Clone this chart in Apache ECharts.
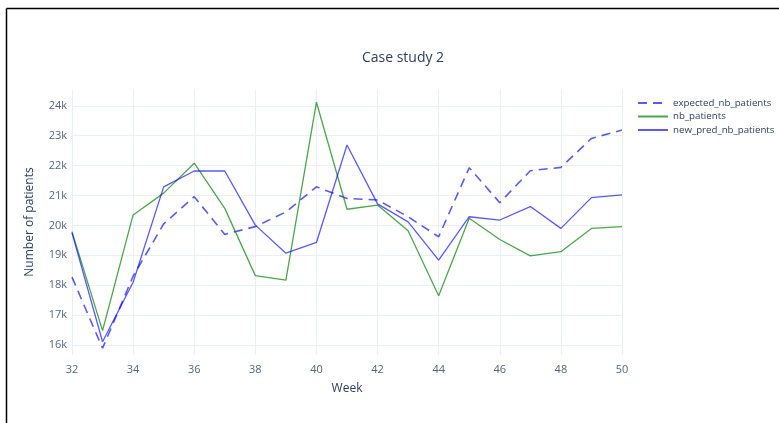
<!DOCTYPE html>
<html><head><meta charset="utf-8">
<script src="https://cdn.jsdelivr.net/npm/echarts@6/dist/echarts.min.js"></script>
<style>html,body{margin:0;padding:0;background:#fff}#c{width:779px;height:423px}</style>
</head><body><div id="c"></div>
<script>
const weeks = [32,33,34,35,36,37,38,39,40,41,42,43,44,45,46,47,48,49,50];
const expected = [18270,15890,18300,20050,20960,19700,19960,20450,21290,20900,20850,20290,19620,21930,20760,21830,21940,22910,23190];
const nbPatients = [19790,16480,20350,21080,22080,20570,18320,18170,24120,20540,20680,19820,17650,20240,19530,18980,19120,19900,19960];
const newPred = [19750,16110,18100,21290,21820,21820,20010,19070,19430,22690,20720,20120,18840,20290,20180,20630,19900,20930,21020];
const yTicks = [16000,17000,18000,19000,20000,21000,22000,23000,24000];

const font = 'Open Sans, Noto Sans, sans-serif';
const txt = '#2a3f5f';
const tick = '#506784';
const pair = a => weeks.map((w,i)=>[w,a[i]]);
const chart = echarts.init(document.getElementById('c'));
chart.setOption({
  animation:false,
  backgroundColor:'#fff',
  title:{text:'Case study 2',left:398,top:46,textAlign:'center',textStyle:{fontFamily:font,fontSize:14,fontWeight:'normal',color:txt}},
  legend:{orient:'vertical',left:632,top:93,itemWidth:30,itemHeight:12,itemGap:3.5,
    itemStyle:{opacity:0},
    textStyle:{fontFamily:font,fontSize:9.7,color:txt},
    data:['expected_nb_patients','nb_patients','new_pred_nb_patients']},
  grid:{left:72,right:157,top:89,bottom:68},
  xAxis:{type:'value',min:32,max:50,interval:2,
    name:'Week',nameLocation:'middle',nameGap:28,nameTextStyle:{fontFamily:font,fontSize:12,color:txt},
    axisLine:{show:false},axisTick:{show:false},
    axisLabel:{fontFamily:font,fontSize:11,color:tick,margin:9},
    splitLine:{show:true,lineStyle:{color:'#ebf0f8',width:1}}},
  yAxis:{type:'value',min:15666,max:24562,
    name:'Number of patients',nameLocation:'middle',nameGap:36,nameTextStyle:{fontFamily:font,fontSize:12,color:txt},
    axisLine:{show:false},
    axisTick:{show:false,customValues:yTicks},
    axisLabel:{fontFamily:font,fontSize:11,color:tick,margin:5,customValues:yTicks,formatter:v=>(v/1000)+'k'},
    splitLine:{show:true,lineStyle:{color:'#ebf0f8',width:1}}},
  series:[
    {name:'expected_nb_patients',type:'line',data:pair(expected),symbol:'none',
      lineStyle:{color:'rgba(0,0,255,0.65)',width:1.6,type:[9,6]},itemStyle:{color:'rgba(0,0,255,0.65)'}},
    {name:'nb_patients',type:'line',data:pair(nbPatients),symbol:'none',
      lineStyle:{color:'rgba(0,128,0,0.7)',width:1.3},itemStyle:{color:'rgba(0,128,0,0.7)'}},
    {name:'new_pred_nb_patients',type:'line',data:pair(newPred),symbol:'none',
      lineStyle:{color:'rgba(0,0,255,0.65)',width:1.3},itemStyle:{color:'rgba(0,0,255,0.65)'}}
  ],
  graphic:[
    {type:'line',shape:{x1:6.5,y1:8.5,x2:779,y2:8.5},style:{stroke:'#000',lineWidth:1.5}},
    {type:'line',shape:{x1:6.5,y1:8.5,x2:6.5,y2:423},style:{stroke:'#000',lineWidth:1.5}}
  ]
});
</script></body></html>
